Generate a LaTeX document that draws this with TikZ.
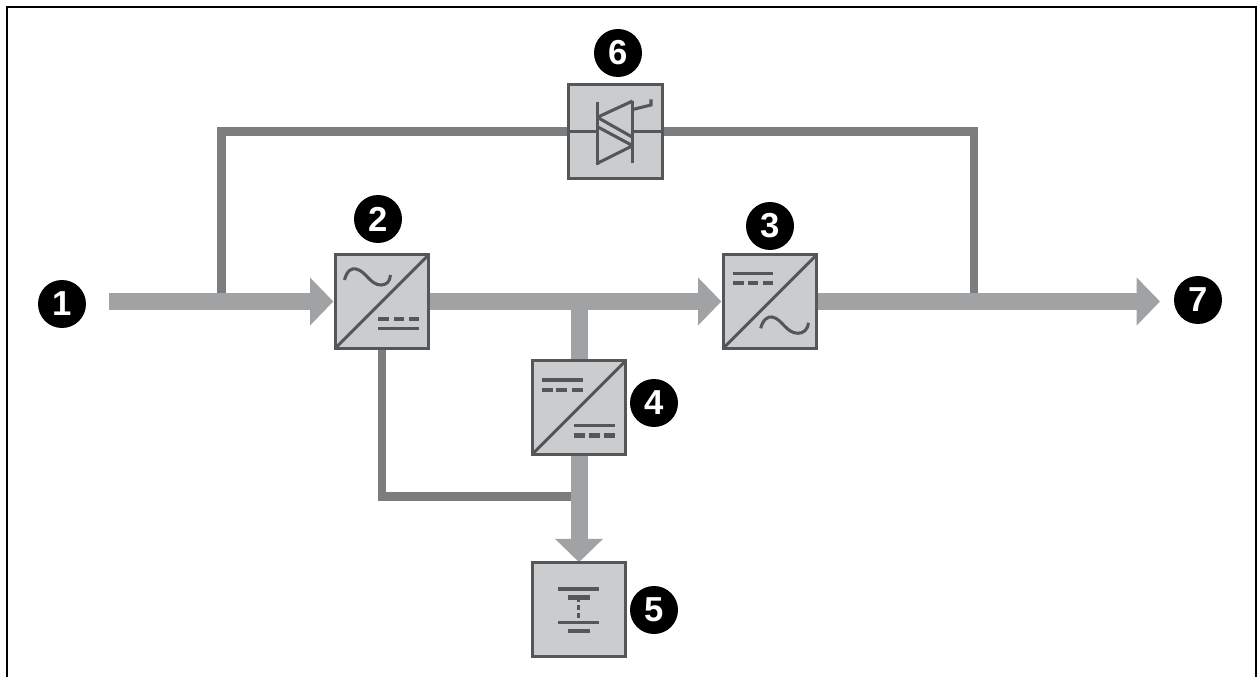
\documentclass[tikz,border=0pt]{standalone}
\usepackage{fontspec}
\setmainfont{Liberation Sans}
\usetikzlibrary{arrows.meta}
\definecolor{flow}{HTML}{A0A2A4}
\definecolor{link}{HTML}{7C7D7F}
\definecolor{boxfill}{HTML}{CBCCCE}
\definecolor{ink}{HTML}{555658}
\tikzset{
  blockbox/.style={draw=ink,fill=boxfill,line width=2.4pt,minimum size=70pt,inner sep=0pt,outer sep=0pt},
  blockedge/.style={draw=ink,line width=2.4pt},
  badge/.style={circle,fill=black,text=white,minimum size=36pt,inner sep=0pt,font=\bfseries\fontsize{26}{26}\selectfont},
  flowline/.style={draw=flow,line width=12.75pt,-{Triangle[length=17.5pt,width=35pt,color=flow]}},
  flowplain/.style={draw=flow,line width=12.75pt},
  linkline/.style={draw=link,line width=6.2pt},
  sym/.style={draw=ink,line width=2.3pt},
  symthick/.style={draw=ink,line width=3.3pt}
}
\begin{document}
\begin{tikzpicture}[x=0.75pt,y=-0.75pt]
\useasboundingbox (0,0) rectangle (1257,677);
\fill[white] (0,0) rectangle (1257,677);
\draw[black,line width=1.6pt] (7,677) -- (7,7) -- (1255.8,7) -- (1255.8,677);
% junctions and free ends
\coordinate (inp) at (109,301.5);
\coordinate (j1) at (221.5,301.5);
\coordinate (j2) at (974,301.5);
\coordinate (j3) at (579,301.5);
\coordinate (out) at (1160,301.5);
% blocks
\node[blockbox] (b6) at (615.5,131.5) {};
\node[blockbox] (b2) at (382,301.5) {};
\node[blockbox] (b3) at (770,301.5) {};
\node[blockbox] (b4) at (579,407.5) {};
\node[blockbox] (b5) at (579,609.5) {};
\coordinate (j4) at (b4.south |- 0,496.5);
% connectors
\draw[linkline] (j1) |- (b6.west);
\draw[linkline] (b6.east) -| (j2);
\draw[linkline] (b2.south) |- (j4);
\draw[flowline,shorten >=1.5pt] (inp) -- (b2.west);
\draw[flowline,shorten >=1.5pt] (b2.east) -- (b3.west);
\draw[flowline] (b3.east) -- (out);
\draw[flowplain] (j3) -- (b4.north);
\draw[flowline,shorten >=0.5pt] (b4.south) -- (b5.north);
% block outlines on top of the connector ends
\draw[blockedge] (b6.south west) rectangle (b6.north east);
\draw[blockedge] (b2.south west) rectangle (b2.north east);
\draw[blockedge] (b3.south west) rectangle (b3.north east);
\draw[blockedge] (b4.south west) rectangle (b4.north east);
\draw[blockedge] (b5.south west) rectangle (b5.north east);
% converter diagonals
\draw[sym] (b2.south west) -- (b2.north east);
\draw[sym] (b3.south west) -- (b3.north east);
\draw[sym] (b4.south west) -- (b4.north east);
% block 2 symbols
\draw[sym] (344.5,280) .. controls (347,270) and (352,268) .. (356,269) .. controls (366,271) and (370,285) .. (381,285) .. controls (386,285) and (390,282) .. (390.5,275);
\draw[sym] (378.3,328.3) -- (419.3,328.3);
\draw[symthick] (378.3,319) -- (389,319) (393.7,319) -- (404.3,319) (408.5,319) -- (419.3,319);
% block 3 symbols
\draw[sym] (732.7,273.3) -- (773.3,273.3);
\draw[symthick] (732.7,283.3) -- (743.5,283.3) (747.5,283.3) -- (758,283.3) (762.5,283.3) -- (773.3,283.3);
\draw[sym] (760.7,328.3) .. controls (763,319) and (768,316.5) .. (772,317) .. controls (782,318.5) and (786,333.3) .. (798,333.3) .. controls (803,333.3) and (808,330) .. (808.3,322.7);
% block 4 symbols
\draw[sym] (541.7,380) -- (582.7,380);
\draw[symthick] (541.7,390) -- (552.5,390) (556.3,390) -- (567,390) (571.5,390) -- (582.7,390);
\draw[sym] (574,425.7) -- (615.3,425.7);
\draw[symthick] (574,435.3) -- (585,435.3) (589,435.3) -- (599.5,435.3) (604,435.3) -- (615.3,435.3);
% block 5 symbols
\draw[sym] (558.3,589) -- (599.3,589);
\draw[symthick] (568.3,597.3) -- (590,597.3);
\draw[draw=ink,line width=1.8pt,dash pattern=on 3.6pt off 2.2pt] (578.3,597.3) -- (578.3,622.7);
\draw[sym] (558.3,622.7) -- (599.3,622.7);
\draw[symthick] (568.3,630.7) -- (590,630.7);
% block 6 symbols
\draw[sym] (b6.west) -- (597.3,131.5);
\draw[sym] (632.7,131.5) -- (b6.east);
\draw[sym] (597.3,101.7) -- (597.3,165);
\draw[sym] (632.7,101) -- (632.7,163.3);
\draw[sym,line join=bevel] (632.7,101) -- (597.3,117.3) -- (632.7,137.3);
\draw[sym,line join=bevel] (597.3,126.7) -- (632.7,145.7) -- (597.3,163.3);
\draw[sym] (632.7,109.5) -- (651,105) -- (651,99.5);
% badges
\node[badge] (n1) at (62,304) {1};
\node[badge] (n2) at (378,219) {2};
\node[badge] (n3) at (770,226) {3};
\node[badge] (n4) at (654,403) {4};
\node[badge] (n5) at (654,610) {5};
\node[badge] (n6) at (618,53) {6};
\node[badge] (n7) at (1198,300) {7};
\end{tikzpicture}
\end{document}
